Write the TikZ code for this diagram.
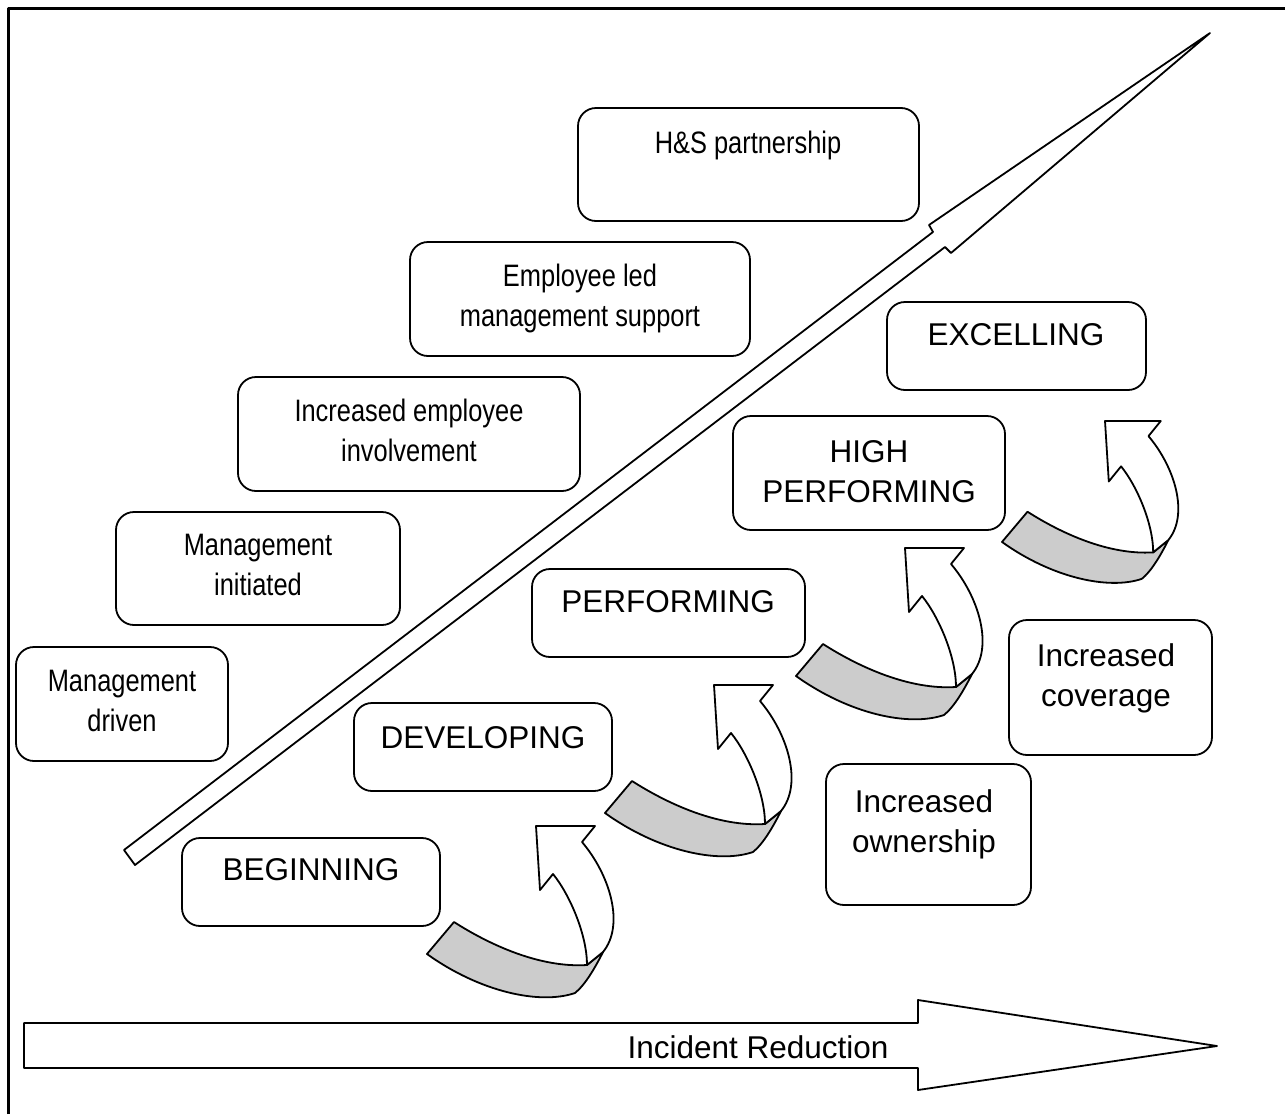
\documentclass[tikz,border=0pt]{standalone}
\usepackage{fontspec}
\setmainfont{Liberation Sans}
\newfontfamily\narrowfont[FakeStretch=0.82]{Liberation Sans}
\definecolor{ribbon}{HTML}{CCCCCC}

% curved "step up" arrow: grey underside ribbon plus white arrow body,
% placed by the top-left corner of its head
\newcommand\riserarrow[3]{%
  \begin{scope}[shift={(#1,#2)}, scale=#3]
    \filldraw[outline, fill=ribbon] (-109,128) -- (-82,96)
      .. controls (-46,119) and (4,142) .. (51,139) -- (67,126)
      .. controls (59,142) and (49,159) .. (39,167)
      .. controls (4,179) and (-56,166) .. cycle;
    \filldraw[outline, fill=white] (51,139)
      .. controls (51,109) and (34,69) .. (17,48) -- (4,64) -- (0,0)
      -- (59,0) -- (46,16)
      .. controls (74,49) and (89,99) .. (67,126) -- cycle;
  \end{scope}}

\begin{document}
\begin{tikzpicture}[x=1pt, y=-1pt, line join=round,
  frame/.style={line width=3pt},
  outline/.style={draw, line width=1.8pt},
  box/.style={draw, line width=1.8pt, rounded corners=18pt, fill=white, inner sep=0pt},
  stage/.style={inner sep=0pt, anchor=north, align=center,
    font=\fontsize{31.5}{40}\selectfont},
  level/.style={inner sep=0pt, anchor=north, align=center,
    font=\narrowfont\fontsize{31}{40}\selectfont}]

\useasboundingbox (0,0) rectangle (1285,1114);
\fill[white] (0,0) rectangle (1285,1114);

% frame edges
\draw[frame] (8,1114) -- (8,8) -- (1285,8);

% rising diagonal arrow
\draw[outline, fill=white] (124,850) -- (933,232) -- (929,225) -- (1210,33)
  -- (951,253) -- (945,247) -- (135,865) -- cycle;

% horizontal arrow
\draw[outline, fill=white] (24,1023) -- (918,1023) -- (918,1000) -- (1217,1046)
  -- (918,1090) -- (918,1068) -- (24,1068) -- cycle;
\node[stage, anchor=center] (ir) at (758,1047) {Incident Reduction};

% involvement levels (above the diagonal)
\node[box, minimum width=212pt, minimum height=114pt] (md) at (122,704) {};
\node[level] (mdt) at (122,670) {Management\\driven};
\node[box, minimum width=284pt, minimum height=113pt] (mi) at (258,568.5) {};
\node[level] (mit) at (258,534) {Management\\initiated};
\node[box, minimum width=342pt, minimum height=114pt] (iei) at (409,434) {};
\node[level] (ieit) at (409,399) {Increased employee\\involvement};
\node[box, minimum width=340pt, minimum height=114pt] (elm) at (580,299) {};
\node[level] (elmt) at (580,264) {Employee led\\management support};
\node[box, minimum width=341pt, minimum height=113pt] (hs) at (748.5,164.5) {};
\node[level] (hst) at (748,131) {H\&S partnership};

% stages (below the diagonal)
\node[box, minimum width=258pt, minimum height=88pt] (beg) at (311,882) {};
\node[stage] (begt) at (311,858) {BEGINNING};
\node[box, minimum width=258pt, minimum height=88pt] (dev) at (483,747) {};
\node[stage] (devt) at (483,726) {DEVELOPING};
\node[box, minimum width=273pt, minimum height=88pt] (perf) at (668.5,613) {};
\node[stage] (perft) at (668,590) {PERFORMING};
\node[box, minimum width=272pt, minimum height=114pt] (hp) at (869,473) {};
\node[stage] (hpt) at (869,440) {HIGH\\PERFORMING};
\node[box, minimum width=259pt, minimum height=88pt] (exc) at (1016.5,346) {};
\node[stage] (exct) at (1016,323) {EXCELLING};

% drivers
\node[box, minimum width=203pt, minimum height=135pt] (ic) at (1110.5,687.5) {};
\node[stage] (ict) at (1106,643) {Increased\\coverage};
\node[box, minimum width=205pt, minimum height=141pt] (io) at (928.5,834.5) {};
\node[stage] (iot) at (924,789) {Increased\\ownership};

% step-up arrows between stages
\riserarrow{536}{826}{1}
\riserarrow{714}{685}{1}
\riserarrow{905}{548}{1}
\riserarrow{1105}{421}{0.945}

\end{tikzpicture}
\end{document}
